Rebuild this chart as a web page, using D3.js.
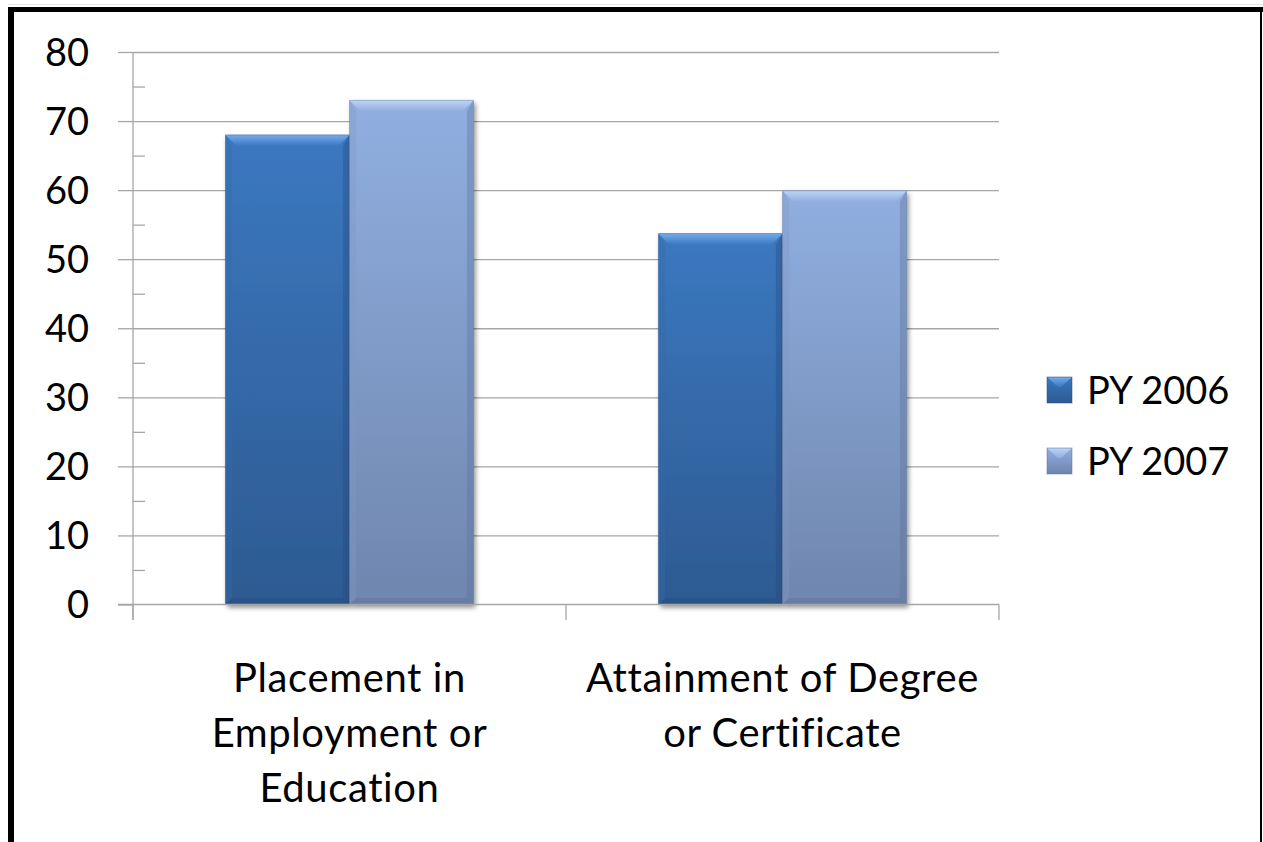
<!DOCTYPE html>
<html>
<head>
<meta charset="utf-8">
<script src="https://cdn.jsdelivr.net/npm/d3@7"></script>
<style>
  html, body { margin: 0; padding: 0; background: #fff; }
  svg { display: block; }
  text { font-family: Lato, "Open Sans", sans-serif; fill: #000; }
</style>
</head>
<body>
<svg id="chart" width="1263" height="842"></svg>
<script>
// ---- data ----
const categories = [["Placement in", "Employment or", "Education"], ["Attainment of Degree", "or Certificate"]];
const categoryKeys = ["Placement in Employment or Education", "Attainment of Degree or Certificate"];
const seriesNames = ["PY 2006", "PY 2007"];
const py2006 = [68, 53.7];
const py2007 = [73, 59.9];
const yTicks = [0, 10, 20, 30, 40, 50, 60, 70, 80];
const yMinorTicks = [5, 15, 25, 35, 45, 55, 65, 75];

// ---- styles ----
const palette = {
  "PY 2006": { top: "#3b78c0", bottom: "#2d5a91", bevTop: "#74abec", bevSide: "#3469aa", bevBottom: "#24497a" },
  "PY 2007": { top: "#90afe0", bottom: "#6f86ae", bevTop: "#bdd4f5", bevSide: "#8199c4", bevBottom: "#5c7198" }
};

const svg = d3.select("#chart");
const W = 1263, H = 842;
const plot = { left: 133, right: 999, top: 52, bottom: 604.5 };

// frame
svg.append("rect").attr("x", 0).attr("y", 0).attr("width", W).attr("height", H).attr("fill", "#fff");
svg.append("line").attr("x1", 8).attr("x2", W).attr("y1", 4.5).attr("y2", 4.5).attr("stroke", "#e4e4e4").attr("stroke-width", 1);
svg.append("rect").attr("x", 8).attr("y", 7).attr("width", W - 8).attr("height", 5).attr("fill", "#000");
svg.append("rect").attr("x", 8).attr("y", 7).attr("width", 6).attr("height", H - 7).attr("fill", "#000");
svg.append("rect").attr("x", 1260).attr("y", 7).attr("width", 2).attr("height", H - 7).attr("fill", "#000");

const defs = svg.append("defs");
seriesNames.forEach((s, i) => {
  const g = defs.append("linearGradient").attr("id", "grad" + i).attr("x1", 0).attr("x2", 0).attr("y1", 0).attr("y2", 1);
  g.append("stop").attr("offset", "0%").attr("stop-color", palette[s].top);
  g.append("stop").attr("offset", "100%").attr("stop-color", palette[s].bottom);
  const b = defs.append("linearGradient").attr("id", "bev" + i).attr("x1", 0).attr("x2", 0).attr("y1", 0).attr("y2", 1);
  b.append("stop").attr("offset", "0%").attr("stop-color", palette[s].bevTop);
  b.append("stop").attr("offset", "100%").attr("stop-color", palette[s].top);
});
const shadow = defs.append("filter").attr("id", "shadow").attr("x", "-10%").attr("y", "-10%").attr("width", "130%").attr("height", "130%");
shadow.append("feGaussianBlur").attr("in", "SourceAlpha").attr("stdDeviation", 2.5);
shadow.append("feOffset").attr("dx", 2).attr("dy", 3).attr("result", "ob");
shadow.append("feComponentTransfer").append("feFuncA").attr("type", "linear").attr("slope", 0.45);
const merge = shadow.append("feMerge");
merge.append("feMergeNode");
merge.append("feMergeNode").attr("in", "SourceGraphic");

// scales
const y = d3.scaleLinear().domain([0, 80]).range([plot.bottom, plot.top]);
const x0 = d3.scaleBand().domain(categoryKeys).range([plot.left, plot.right]).paddingInner(0.427).paddingOuter(0.2135);
const x1 = d3.scaleBand().domain(seriesNames).range([0, x0.bandwidth()]);

const axisColor = "#a6a6a6";

// gridlines + major ticks (outside)
const yAxis = d3.axisLeft(y).tickValues(yTicks).tickSize(15).tickFormat("");
const gy = svg.append("g").attr("transform", `translate(${plot.left},0)`).call(yAxis);
gy.select(".domain").remove();
gy.selectAll(".tick line").attr("stroke", axisColor).attr("stroke-width", 1.3);
const grid = d3.axisRight(y).tickValues(yTicks.slice(1)).tickSize(plot.right - plot.left).tickFormat("");
const gg = svg.append("g").attr("transform", `translate(${plot.left},0)`).call(grid);
gg.select(".domain").remove();
gg.selectAll(".tick line").attr("stroke", axisColor).attr("stroke-width", 1.3);
// minor ticks (inside)
const minor = d3.axisRight(y).tickValues(yMinorTicks).tickSize(12).tickFormat("");
const gm = svg.append("g").attr("transform", `translate(${plot.left},0)`).call(minor);
gm.select(".domain").remove();
gm.selectAll(".tick line").attr("stroke", axisColor).attr("stroke-width", 1.3);
// y axis line
svg.append("line").attr("x1", plot.left).attr("x2", plot.left).attr("y1", plot.top).attr("y2", plot.bottom + 15.5)
  .attr("stroke", axisColor).attr("stroke-width", 1.3);
// y labels
svg.append("g").selectAll("text").data(yTicks).join("text")
  .attr("x", 89).attr("y", d => y(d)).attr("dy", "0.36em").attr("text-anchor", "end")
  .style("font-size", "38px").text(d => d);

// bars
const groups = svg.append("g").selectAll("g").data(categoryKeys).join("g")
  .attr("transform", d => `translate(${x0(d)},0)`);
const bevel = 11;
groups.each(function(cat, ci) {
  const g = d3.select(this);
  const vals = [py2006[ci], py2007[ci]];
  seriesNames.forEach((s, si) => {
    const bx = x1(s), bw = x1.bandwidth(), top = y(vals[si]), bot = y(0), p = palette[s];
    const bg = g.append("g");
    bg.append("rect").attr("x", bx).attr("y", top).attr("width", bw).attr("height", bot - top)
      .attr("fill", `url(#grad${si})`).attr("filter", "url(#shadow)");
    // left bevel
    bg.append("path").attr("d", `M${bx},${top} L${bx + bevel * 0.6},${top + bevel} L${bx + bevel * 0.6},${bot - bevel * 0.6} L${bx},${bot} Z`)
      .attr("fill", p.bevSide).attr("opacity", 0.35);
    // right bevel
    bg.append("path").attr("d", `M${bx + bw},${top} L${bx + bw - bevel * 0.6},${top + bevel} L${bx + bw - bevel * 0.6},${bot - bevel * 0.6} L${bx + bw},${bot} Z`)
      .attr("fill", p.bevBottom).attr("opacity", 0.35);
    // bottom bevel
    bg.append("path").attr("d", `M${bx},${bot} L${bx + bevel * 0.6},${bot - bevel * 0.6} L${bx + bw - bevel * 0.6},${bot - bevel * 0.6} L${bx + bw},${bot} Z`)
      .attr("fill", p.bevBottom).attr("opacity", 0.4);
    // top bevel
    bg.append("path").attr("d", `M${bx},${top} L${bx + bw},${top} L${bx + bw - bevel},${top + bevel} L${bx + bevel},${top + bevel} Z`)
      .attr("fill", `url(#bev${si})`);
    bg.append("rect").attr("x", bx).attr("y", top).attr("width", bw).attr("height", bot - top)
      .attr("fill", "none").attr("stroke", p.bevBottom).attr("stroke-opacity", 0.35).attr("stroke-width", 1);
  });
});

// x axis
svg.append("line").attr("x1", plot.left - 15).attr("x2", plot.right).attr("y1", plot.bottom).attr("y2", plot.bottom)
  .attr("stroke", axisColor).attr("stroke-width", 1.3);
const xTickPos = [plot.left, (plot.left + plot.right) / 2, plot.right];
svg.append("g").selectAll("line").data(xTickPos).join("line")
  .attr("x1", d => d).attr("x2", d => d).attr("y1", plot.bottom).attr("y2", plot.bottom + 15.5)
  .attr("stroke", axisColor).attr("stroke-width", 1.3);

// category labels
svg.append("g").selectAll("text").data(categoryKeys).join("text")
  .attr("x", d => x0(d) + x0.bandwidth() / 2).attr("y", 692).attr("text-anchor", "middle")
  .style("font-size", "40px").style("letter-spacing", "0.6px")
  .each(function(d, i) {
    const t = d3.select(this);
    categories[i].forEach((line, li) => {
      t.append("tspan").attr("x", x0(d) + x0.bandwidth() / 2).attr("y", 692 + li * 55).text(line);
    });
  });

// legend
const leg = svg.append("g").attr("transform", "translate(1047,377)");
seriesNames.forEach((s, i) => {
  const g = leg.append("g").attr("transform", `translate(0,${i * 71})`);
  g.append("rect").attr("width", 25).attr("height", 26).attr("fill", `url(#grad${i})`);
  g.append("path").attr("d", "M0,0 L25,0 L14,10 L11,10 Z").attr("fill", `url(#bev${i})`);
  g.append("rect").attr("width", 25).attr("height", 26).attr("fill", "none").attr("stroke", palette[s].bevBottom).attr("stroke-opacity", 0.5);
  g.append("text").attr("x", 40).attr("y", 13).attr("dy", "0.36em").style("font-size", "38px").text(s);
});
</script>
</body>
</html>
